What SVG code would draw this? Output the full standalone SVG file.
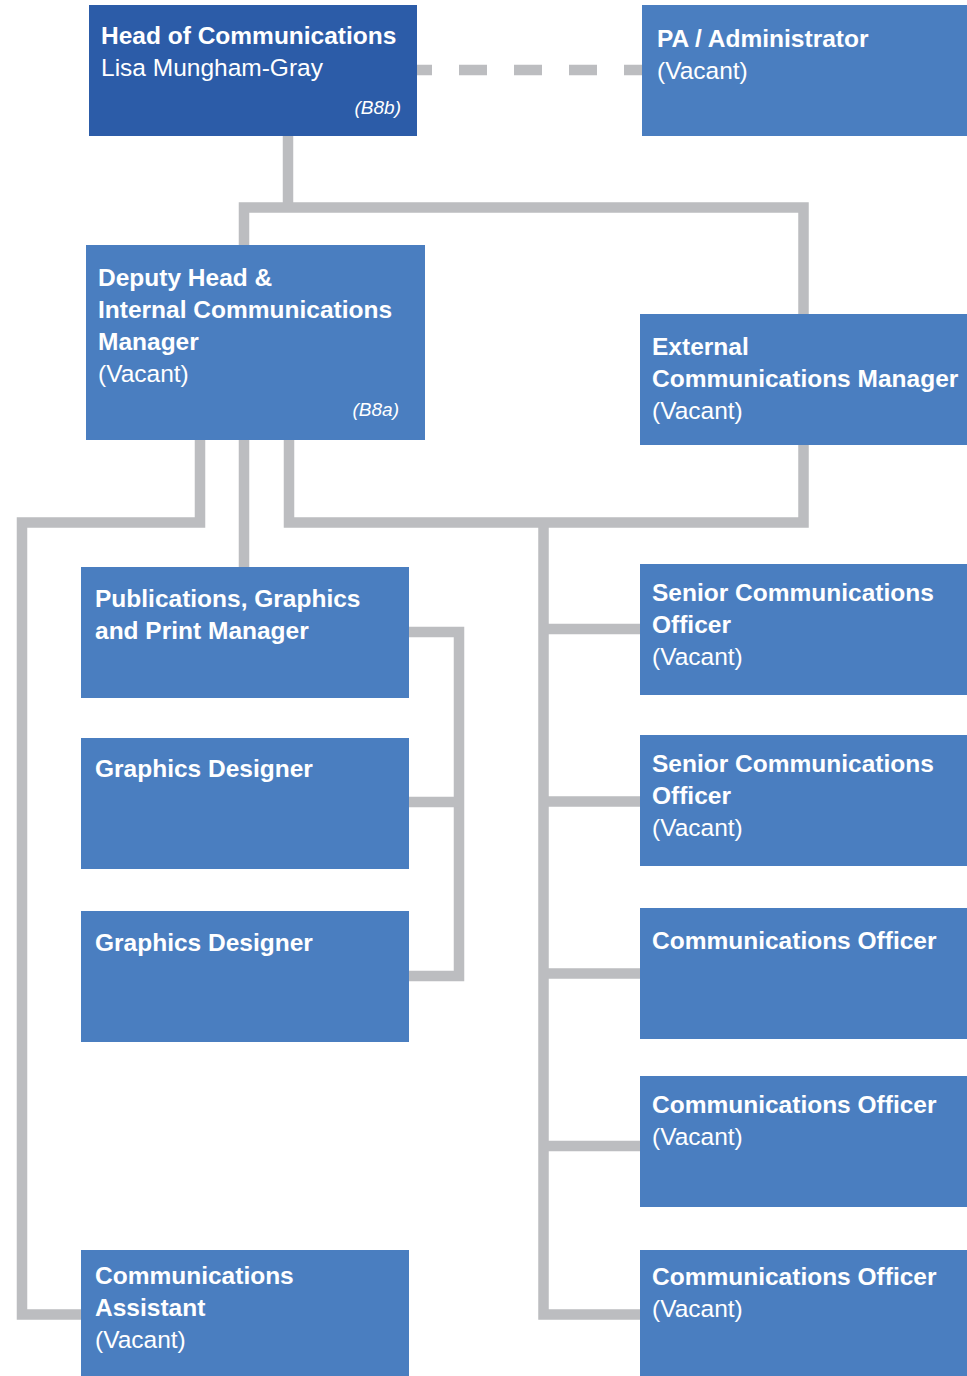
<svg xmlns="http://www.w3.org/2000/svg" width="967" height="1376" viewBox="0 0 967 1376">
<style>
.box{fill:#4a7ec0}
.dark{fill:#2c5ca8}
text{font-family:"Liberation Sans",Arial,sans-serif;fill:#ffffff;font-size:24.5px}
.b{font-weight:bold}
.grade{font-style:italic;font-size:19px;text-anchor:end}
.conn{fill:none;stroke:#bcbdc0;stroke-width:10.5;stroke-linejoin:miter;stroke-linecap:butt}
.dash{stroke-dasharray:28 27;stroke-dashoffset:13}
</style>
<rect width="967" height="1376" fill="#ffffff"/>
<g id="connectors">
<path class="conn dash" d="M417,70 H642"/>
<path class="conn" d="M288,136 V207.5"/>
<path class="conn" d="M244,245 V207.5 H803.5 V314"/>
<path class="conn" d="M200,440 V522.5 H22 V1314.5 H81"/>
<path class="conn" d="M244,440 V567"/>
<path class="conn" d="M289,440 V522.5 H803.5 V445"/>
<path class="conn" d="M543.5,522.5 V1314.5 H640"/>
<path class="conn" d="M543.5,629 H640 M543.5,801.5 H640 M543.5,973.5 H640 M543.5,1146 H640"/>
<path class="conn" d="M409,632 H459 V976 H409"/>
<path class="conn" d="M409,802 H459"/>
</g>
<g id="head">
<rect class="dark" x="89" y="5" width="328" height="131"/>
<text class="b" x="101" y="44">Head of Communications</text>
<text x="101" y="76">Lisa Mungham-Gray</text>
<text class="grade" x="401" y="114">(B8b)</text>
</g>
<g id="pa">
<rect class="box" x="642" y="5" width="325" height="131"/>
<text class="b" x="657" y="47">PA / Administrator</text>
<text x="657" y="79">(Vacant)</text>
</g>
<g id="deputy">
<rect class="box" x="86" y="245" width="339" height="195"/>
<text class="b" x="98" y="286">Deputy Head &amp;</text>
<text class="b" x="98" y="318">Internal Communications</text>
<text class="b" x="98" y="350">Manager</text>
<text x="98" y="382">(Vacant)</text>
<text class="grade" x="399" y="416">(B8a)</text>
</g>
<g id="external">
<rect class="box" x="640" y="314" width="327" height="131"/>
<text class="b" x="652" y="355">External</text>
<text class="b" x="652" y="387">Communications Manager</text>
<text x="652" y="419">(Vacant)</text>
</g>
<g id="publications">
<rect class="box" x="81" y="567" width="328" height="131"/>
<text class="b" x="95" y="607">Publications, Graphics</text>
<text class="b" x="95" y="639">and Print Manager</text>
</g>
<g id="graphics1">
<rect class="box" x="81" y="738" width="328" height="131"/>
<text class="b" x="95" y="777">Graphics Designer</text>
</g>
<g id="graphics2">
<rect class="box" x="81" y="911" width="328" height="131"/>
<text class="b" x="95" y="951">Graphics Designer</text>
</g>
<g id="assistant">
<rect class="box" x="81" y="1250" width="328" height="126"/>
<text class="b" x="95" y="1284">Communications</text>
<text class="b" x="95" y="1316">Assistant</text>
<text x="95" y="1348">(Vacant)</text>
</g>
<g id="senior1">
<rect class="box" x="640" y="564" width="327" height="131"/>
<text class="b" x="652" y="601">Senior Communications</text>
<text class="b" x="652" y="633">Officer</text>
<text x="652" y="665">(Vacant)</text>
</g>
<g id="senior2">
<rect class="box" x="640" y="735" width="327" height="131"/>
<text class="b" x="652" y="772">Senior Communications</text>
<text class="b" x="652" y="804">Officer</text>
<text x="652" y="836">(Vacant)</text>
</g>
<g id="officer1">
<rect class="box" x="640" y="908" width="327" height="131"/>
<text class="b" x="652" y="949">Communications Officer</text>
</g>
<g id="officer2">
<rect class="box" x="640" y="1076" width="327" height="131"/>
<text class="b" x="652" y="1113">Communications Officer</text>
<text x="652" y="1145">(Vacant)</text>
</g>
<g id="officer3">
<rect class="box" x="640" y="1250" width="327" height="126"/>
<text class="b" x="652" y="1285">Communications Officer</text>
<text x="652" y="1317">(Vacant)</text>
</g>
</svg>
